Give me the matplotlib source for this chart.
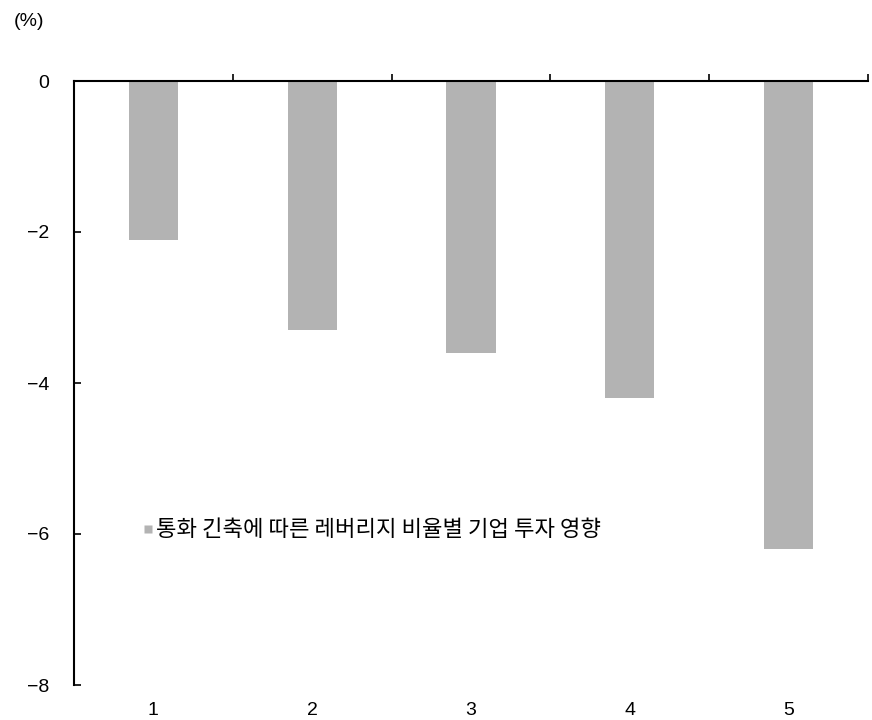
import matplotlib
matplotlib.use("Agg")
import matplotlib.pyplot as plt
from matplotlib.lines import Line2D

plt.rcParams['font.family'] = ['Liberation Sans', 'Noto Sans CJK KR', 'DejaVu Sans']
plt.rcParams['axes.unicode_minus'] = True

categories = ['1', '2', '3', '4', '5']
values = [-2.1, -3.3, -3.6, -4.2, -6.2]
yticks = [0, -2, -4, -6, -8]
ytick_labels = ['0', '\u22122', '\u22124', '\u22126', '\u22128']
series_name = '통화 긴축에 따른 레버리지 비율별 기업 투자 영향'
bar_color = '#b3b3b3'

fig = plt.figure(figsize=(8.72, 7.2), dpi=100)
ax = fig.add_axes([74 / 872, 1 - 685 / 720, 794 / 872, 604 / 720])

x = list(range(len(categories)))
ax.bar(x, values, width=0.31, color=bar_color, edgecolor='none', zorder=2)

ax.set_xlim(-0.5, len(categories) - 0.5)
ax.set_ylim(-8, 0)

# category labels below, boundary ticks on the zero line at top
ax.set_xticks(x)
ax.set_xticklabels(categories, fontsize=14)
ax.set_xticks([i + 0.5 for i in x], minor=True)
ax.tick_params(axis='x', which='major', length=0, pad=12, bottom=True, top=False)
ax.tick_params(axis='x', which='minor', length=5, width=1.2, top=True, bottom=False,
               direction='out', color='black')

ax.set_yticks(yticks)
ax.set_yticklabels(ytick_labels, fontsize=14)
ax.tick_params(axis='y', direction='in', length=5, width=1.2, pad=18)

ax.spines['bottom'].set_visible(False)
ax.spines['right'].set_visible(False)
ax.spines['top'].set_linewidth(1.5)
ax.spines['left'].set_linewidth(1.5)

handle = Line2D([], [], marker='s', linestyle='none', markersize=6,
                markerfacecolor=bar_color, markeredgecolor='none')
ax.legend([handle], [series_name], loc='center left',
          bbox_to_anchor=((142 - 74) / 794, 1 - (530 - 81) / 604),
          frameon=False, handlelength=0.5, handletextpad=0.15,
          borderaxespad=0, borderpad=0,
          prop={'family': ['Noto Sans CJK KR', 'DejaVu Sans'], 'size': 16})

fig.text(14 / 872, 1 - 21 / 720, '(%)', fontsize=14, va='center', ha='left')

fig.savefig('out.png', dpi=100)
